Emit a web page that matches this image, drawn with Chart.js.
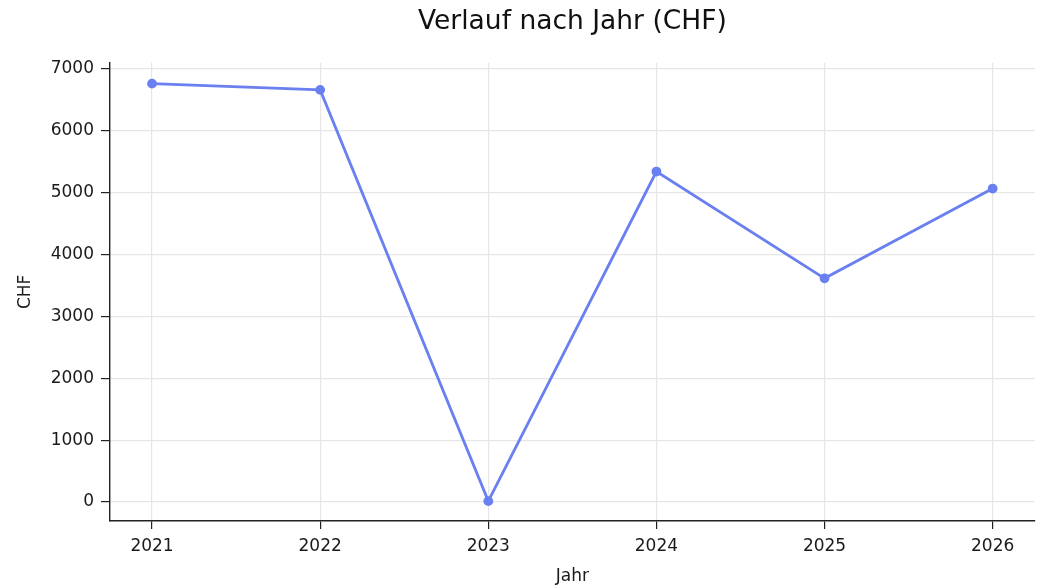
<!DOCTYPE html>
<html>
<head>
<meta charset="utf-8">
<script src="https://cdn.jsdelivr.net/npm/chart.js@4/dist/chart.umd.min.js"></script>
<style>
  html, body { margin: 0; padding: 0; background: #fff; }
  #wrap { width: 1041px; height: 587px; }
</style>
</head>
<body>
<div id="wrap"><canvas id="lineChart"></canvas></div>
<script>
const years = [2021, 2022, 2023, 2024, 2025, 2026];
const chfValues = [6760, 6660, 15, 5340, 3615, 5065];
const yTicks = [0, 1000, 2000, 3000, 4000, 5000, 6000, 7000];

const points = years.map((y, i) => ({ x: y, y: chfValues[i] }));
const font = 'DejaVu Sans';

// center the title over the plot area, like matplotlib does
const titleOverPlot = {
  id: 'titleOverPlot',
  afterLayout(chart) {
    chart.titleBlock.left = chart.chartArea.left;
    chart.titleBlock.right = chart.chartArea.right;
  }
};

const ctx = document.getElementById('lineChart').getContext('2d');
new Chart(ctx, {
  type: 'line',
  data: {
    datasets: [{
      label: 'CHF',
      data: points,
      borderColor: '#6a80f0',
      backgroundColor: '#6a80f0',
      borderWidth: 2.8,
      pointRadius: 3.5,
      pointHoverRadius: 3.5,
      tension: 0,
      fill: false
    }]
  },
  options: {
    responsive: true,
    maintainAspectRatio: false,
    animation: false,
    layout: { padding: { left: 15, right: 6, top: 0, bottom: 0 } },
    plugins: {
      legend: { display: false },
      tooltip: { enabled: false },
      title: {
        display: true,
        text: 'Verlauf nach Jahr (CHF)',
        color: '#111',
        font: { family: font, size: 26.5, weight: 'normal' },
        padding: { top: 6, bottom: 25 }
      }
    },
    scales: {
      x: {
        type: 'linear',
        min: 2020.75,
        max: 2026.25,
        afterBuildTicks: (scale) => { scale.ticks = years.map(v => ({ value: v })); },
        afterFit: (scale) => { scale.height = 66; },
        ticks: {
          color: '#1a1a1a',
          font: { family: font, size: 17 },
          padding: 7,
          maxRotation: 0,
          callback: (v) => String(v)
        },
        grid: { color: '#e6e6e6', tickColor: '#222', tickLength: 8, lineWidth: 1.2 },
        border: { color: '#222', width: 1.4 },
        title: {
          display: true,
          text: 'Jahr',
          color: '#1a1a1a',
          font: { family: font, size: 17 },
          padding: { top: 0, bottom: 0 }
        }
      },
      y: {
        min: -306,
        max: 7097,
        afterBuildTicks: (scale) => { scale.ticks = yTicks.map(v => ({ value: v })); },
        afterFit: (scale) => { scale.width = 95; },
        ticks: {
          color: '#1a1a1a',
          font: { family: font, size: 17 },
          padding: 7,
          callback: (v) => String(v)
        },
        grid: { color: '#e6e6e6', tickColor: '#222', tickLength: 9, lineWidth: 1.2 },
        border: { color: '#222', width: 1.4 },
        title: {
          display: true,
          text: 'CHF',
          color: '#1a1a1a',
          font: { family: font, size: 17 },
          padding: { top: 0, bottom: 8 }
        }
      }
    }
  },
  plugins: [titleOverPlot]
});
</script>
</body>
</html>
